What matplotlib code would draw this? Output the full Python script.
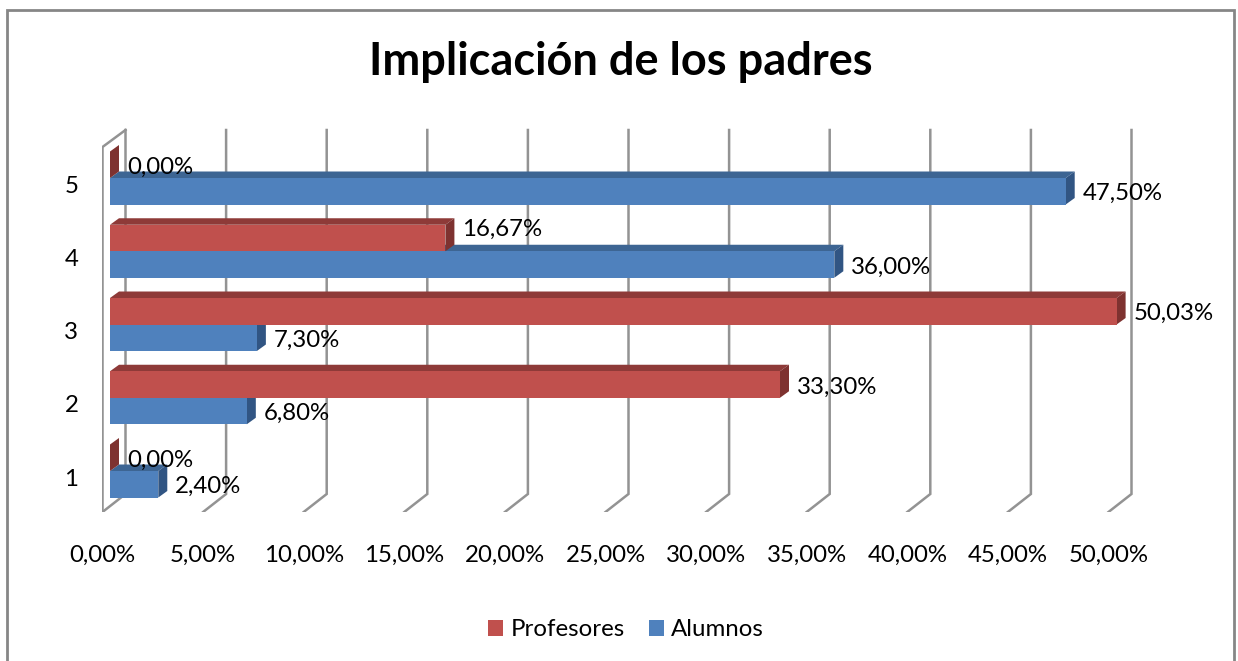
import matplotlib
matplotlib.use('Agg')
import matplotlib.pyplot as plt
from matplotlib.lines import Line2D
from matplotlib.patches import Patch, Polygon

plt.rcParams['font.family'] = ['Lato', 'DejaVu Sans']

categories = [1, 2, 3, 4, 5]
profesores = [0.00, 33.30, 50.03, 16.67, 0.00]
alumnos = [2.40, 6.80, 7.30, 36.00, 47.50]
profesores_labels = ['0,00%', '33,30%', '50,03%', '16,67%', '0,00%']
alumnos_labels = ['2,40%', '6,80%', '7,30%', '36,00%', '47,50%']
x_ticks = [0, 5, 10, 15, 20, 25, 30, 35, 40, 45, 50]
x_tick_labels = ['0,00%', '5,00%', '10,00%', '15,00%', '20,00%', '25,00%',
                 '30,00%', '35,00%', '40,00%', '45,00%', '50,00%']

W, H = 1238, 661
PX_X = 20.12   # pixels per percent
PX_Y = 73.25   # pixels per category
FS = 17.3

# depth of the fake 3d, in data units
bar_h = 26.5 / PX_Y
dx = 9 / PX_X
dy = 6.5 / PX_Y
back_x = 15.5 / PX_X
front_x = -7.5 / PX_X
wall_top = 1 + (471 - 130) / PX_Y
wall_bottom = 1 + (471 - 494) / PX_Y
floor = 1 + (471 - 512) / PX_Y

GRID = '#939393'
RED = ('#c0504d', '#8e3a38', '#7e3230')
BLUE = ('#4f81bd', '#3d6593', '#315583')

fig = plt.figure(figsize=(W / 100, H / 100), dpi=100)
ax = fig.add_axes([102 / W, 1 - 512 / H, (1140 - 102) / W, (512 - 120) / H])
ax.set_xlim((102 - 110) / PX_X, (1140 - 110) / PX_X)
ax.set_ylim(floor, 1 + (471 - 120) / PX_Y)
for s in ax.spines.values():
    s.set_visible(False)
ax.patch.set_alpha(0)

# walls and gridlines
for t in x_ticks:
    ax.plot([t + front_x, t + back_x, t + back_x], [floor, wall_bottom, wall_top],
            color=GRID, lw=1.8, zorder=1, solid_joinstyle='miter')
ax.plot([front_x, front_x, back_x], [floor, wall_top - 17 / PX_Y, wall_top],
        color=GRID, lw=1.8, zorder=1, solid_joinstyle='miter')


def bars3d(ys, vals, cols, z):
    ax.barh(ys, vals, height=bar_h, color=cols[0], edgecolor='none', zorder=z + 0.2)
    for y, v in zip(ys, vals):
        top = y + bar_h / 2
        low = y - bar_h / 2
        ax.add_patch(Polygon([(0, top), (v, top), (v + dx, top + dy), (dx, top + dy)],
                             color=cols[1], lw=0, zorder=z))
        ax.add_patch(Polygon([(v, top), (v + dx, top + dy), (v + dx, low + dy), (v, low)],
                             color=cols[2], lw=0, zorder=z + 0.1))


y_red = [c + bar_h / 2 for c in categories]
y_blue = [c - bar_h / 2 for c in categories]
bars3d(y_blue, alumnos, BLUE, 2)
bars3d(y_red, profesores, RED, 3)

# data labels
lab_dx = 17 / PX_X
lab_dy = -2.5 / PX_Y
for y, v, s in zip(y_blue + y_red, alumnos + profesores, alumnos_labels + profesores_labels):
    yy = y + lab_dy
    if s == '16,67%':  # this one sits higher in the original
        yy += 11 / PX_Y
    ax.text(v + lab_dx, yy, s, fontsize=FS, va='center', ha='left',
            color='black', zorder=5)

ax.set_xticks([t + front_x for t in x_ticks])
ax.set_xticklabels(x_tick_labels, fontsize=FS)
ax.set_yticks([c - 6 / PX_Y for c in categories])
ax.set_yticklabels(categories, fontsize=FS)
ax.tick_params(axis='x', length=0, pad=23.5)
ax.tick_params(axis='y', length=0, pad=17)

fig.text(621 / W, 1 - 62 / H, 'Implicación de los padres', fontsize=32.5,
         fontweight='bold', ha='center', va='center')

handles = [Patch(color=RED[0], lw=0), Patch(color=BLUE[0], lw=0)]
fig.legend(handles, ['Profesores', 'Alumnos'], ncol=2, frameon=False, fontsize=FS,
           loc='center', bbox_to_anchor=(626 / W, 1 - 630 / H),
           handlelength=0.62, handleheight=0.62, handletextpad=0.3, columnspacing=1.0)

# chart border, open at the bottom
fig.add_artist(Line2D([7 / W, 7 / W, 1234 / W, 1234 / W],
                      [0, 1 - 10 / H, 1 - 10 / H, 0],
                      transform=fig.transFigure, color='#868686', lw=2,
                      solid_joinstyle='miter'))

fig.savefig('out.png', dpi=100)
